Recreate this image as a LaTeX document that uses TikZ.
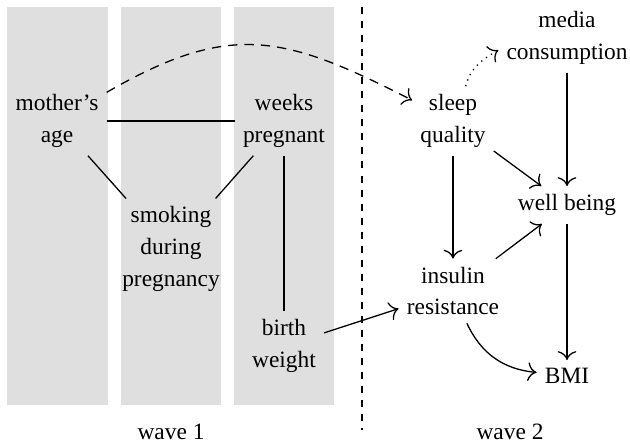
\documentclass[tikz,border=0pt]{standalone}
\usepackage{fontspec}
\setmainfont{Liberation Serif}
\usetikzlibrary{arrows.meta}
\usetikzlibrary{positioning}

\begin{document}
\begin{tikzpicture}[
    var/.style={align=center, font=\fontsize{10}{13.5}\selectfont},
    wavecol/.style={fill=gray!25},
    link/.style={line width=0.55pt},
    effect/.style={link, -{To[scale=1.35]}},
  ]
    \useasboundingbox (0, 0) rectangle (9.46, -6.68);

    % the three columns of wave 1
    \fill [wavecol] (0.105, -0.105) rectangle (1.622, -6.081);
    \fill [wavecol] (1.817, -0.105) rectangle (3.318, -6.081);
    \fill [wavecol] (3.514, -0.105) rectangle (5.015, -6.081);

    \coordinate (divtop) at (5.435, -0.105);
    \coordinate (divbot) at (5.435, -6.456);
    \draw [link, dashed] (divtop) -- (divbot);

    \node [var] at (0.856, -1.817) (mother) {mother's\\age};
    \node [var] at (4.264, -1.817) (weeks) {weeks\\pregnant};
    \node [var] at (2.568, -3.739) (smoking) {smoking\\during\\pregnancy};
    \node [var] at (4.264, -5.195) (birth) {birth\\weight};

    \node [var] at (6.802, -1.817) (sleep) {sleep\\quality};
    \node [var] at (8.514, -0.571) (media) {media\\consumption};
    \node [var] at (8.514, -3.078) (well) {well being};
    \node [var] at (6.802, -4.369) (insulin) {insulin\\resistance};
    \node [var] at (8.514, -5.646) (bmi) {BMI};

    \node [var, anchor=base] at (2.568, -6.607) (wave1) {wave 1};
    \node [var, anchor=base] at (7.658, -6.607) (wave2) {wave 2};

    \draw [link] (mother) -- (weeks);
    \draw [link] (mother) -- (smoking);
    \draw [link] (weeks) -- (smoking);
    \draw [link] (weeks) -- (birth);
    \draw [effect] (birth) -- (insulin);

    \draw [effect, dash pattern=on 4pt off 3pt] (mother) to [out=30, in=153, looseness=1.2] (sleep);
    \draw [effect, dotted] (sleep.70) to [out=75, in=210] (media.190);
    \draw [effect] (sleep) -- (well);
    \draw [effect] (sleep) -- (insulin);
    \draw [effect] (media) -- (well);
    \draw [effect] (insulin) -- (well);
    \draw [effect] (well) -- (bmi);
    \draw [effect] (insulin) to [bend right] (bmi);
\end{tikzpicture}
\end{document}
